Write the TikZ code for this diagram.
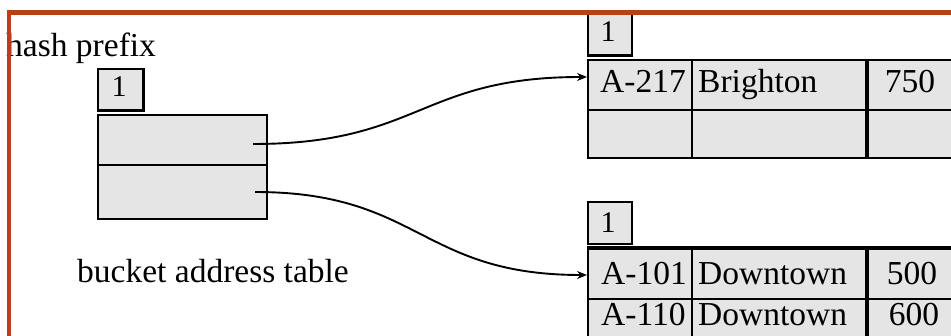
\documentclass[tikz,border=0pt]{standalone}
\usepackage{fontspec}
\setmainfont{Liberation Serif}
\usetikzlibrary{arrows.meta}
\definecolor{cellgray}{RGB}{229,229,229}
\definecolor{framered}{RGB}{181,64,26}
\begin{document}
\begin{tikzpicture}[x=1pt,y=-1pt,
  txt/.style={inner sep=0pt,font=\fontsize{33.5}{40}\selectfont},
  digit/.style={inner sep=0pt,font=\fontsize{30}{36}\selectfont,anchor=base},
  cell/.style={draw=black,fill=cellgray,line width=2.4pt,inner sep=0pt,anchor=north west},
  thincell/.style={cell,line width=1.9pt},
  arr/.style={line width=1.9pt,-{Stealth[length=10pt,width=8pt]}}]
\useasboundingbox (0,0) rectangle (951,336);
\clip (0,0) rectangle (951,336);
\fill[white] (0,0) rectangle (951,336);

% ---- bucket address table (left)
\node[thincell,minimum width=45pt,minimum height=41pt] (lb) at (97,68) {};
\draw[line width=3pt] (lb.north east) -- (lb.south east) -- (lb.south west);
\node[digit] (lbt) at (119,97) {1};
\node[thincell,minimum width=169pt,minimum height=50pt] (bt1) at (97,114) {};
\node[thincell,minimum width=169pt,minimum height=54pt] (bt2) at (97,164) {};
\node[txt,anchor=base west] (hp) at (6,57) {hash prefix};
\node[txt,anchor=base west] (bat) at (77,283) {bucket address table};

% ---- top bucket
\node[cell,minimum width=44pt,minimum height=43pt] (rb1) at (587,11.5) {};
\node[digit] (rb1t) at (608,42) {1};
\node[cell,minimum width=104pt,minimum height=50pt] (a11) at (587,59) {};
\node[cell,minimum width=176pt,minimum height=50pt] (a12) at (691,59) {};
\node[cell,minimum width=95pt,minimum height=50pt] (a13) at (867,59) {};
\node[cell,minimum width=104pt,minimum height=48pt] (a21) at (587,109) {};
\node[cell,minimum width=176pt,minimum height=48pt] (a22) at (691,109) {};
\node[cell,minimum width=95pt,minimum height=48pt] (a23) at (867,109) {};
\draw[line width=3.4pt] (a13.north west) -- (a23.south west);
\node[txt,anchor=base west] at (600,93) {A-217};
\node[txt,anchor=base west] at (698,93) {Brighton};
\node[txt,anchor=base] at (910,93) {750};

% ---- bottom bucket
\node[cell,minimum width=44pt,minimum height=42pt] (rb2) at (587,201) {};
\node[digit] (rb2t) at (608,233) {1};
\node[cell,minimum width=104pt,minimum height=50pt] (b11) at (587,248) {};
\node[cell,minimum width=176pt,minimum height=50pt] (b12) at (691,248) {};
\node[cell,minimum width=95pt,minimum height=50pt] (b13) at (867,248) {};
\node[cell,minimum width=104pt,minimum height=52pt] (b21) at (587,298) {};
\node[cell,minimum width=176pt,minimum height=52pt] (b22) at (691,298) {};
\node[cell,minimum width=95pt,minimum height=52pt] (b23) at (867,298) {};
\draw[line width=3.4pt] (b13.north west) -- (b23.south west);
\draw[line width=3pt] (b11.north west) -- (b13.north east);
\node[txt,anchor=base west] at (601,285) {A-101};
\node[txt,anchor=base west] at (698,285) {Downtown};
\node[txt,anchor=base] at (912,285) {500};
\node[txt,anchor=base west] at (601,326) {A-110};
\node[txt,anchor=base west] at (698,326) {Downtown};
\node[txt,anchor=base] at (914,326) {600};

% ---- pointers
\coordinate (s1) at (253,144);
\coordinate (s2) at (255,192);
\coordinate (e1) at (587,77);
\coordinate (e2) at (587,275);
\draw[arr] (s1) .. controls (420,144) and (420,77) .. (e1);
\draw[arr] (s2) .. controls (420,192) and (420,275) .. (e2);

% ---- slide frame
\fill[framered] (7,10) rectangle (951,15);
\fill[framered] (7,10) rectangle (11,336);
\end{tikzpicture}
\end{document}
